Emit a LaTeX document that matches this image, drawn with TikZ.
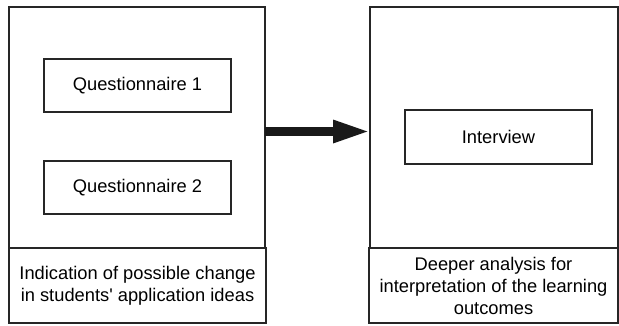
\documentclass[tikz,border=0pt]{standalone}
\usepackage{fontspec}
\setmainfont{Liberation Sans}
\usetikzlibrary{arrows.meta}
\begin{document}
\begin{tikzpicture}[x=1pt,y=-1pt,
  box/.style={draw=black!85, line width=1.8pt, rectangle, inner sep=0pt, outer sep=0pt},
  txt/.style={font=\fontsize{18.3}{22}\selectfont, align=center},
  bigarrow/.style={line width=8.5pt, -{Triangle[length=37pt,width=21pt]}, black!90}]
\useasboundingbox (0,0) rectangle (619,325);
% left part
\node[box, minimum width=256pt, minimum height=241pt] (L) at (137,127.5) {};
\node[box, txt, minimum width=257pt, minimum height=75pt] (LC) at (137.5,285.5)
  {Indication of possible change\\in students\textquotesingle{} application ideas};
\node[box, txt, minimum width=187pt, minimum height=53pt] (Q1) at (137.5,85.5) {Questionnaire 1};
\node[box, txt, minimum width=187pt, minimum height=53pt] (Q2) at (137.5,187.5) {Questionnaire 2};
% right part
\node[box, minimum width=248pt, minimum height=241pt] (R) at (494,127.5) {};
\node[box, txt, minimum width=249pt, minimum height=75pt] (RC) at (493.5,285.5)
  {Deeper analysis for\\interpretation of the learning\\outcomes};
\node[box, txt, minimum width=187pt, minimum height=54pt] (I) at (498.5,137) {Interview};
% arrow
\draw[bigarrow] (L.east |- 0,131.5) -- (R.west |- 0,131.5);
\end{tikzpicture}
\end{document}
